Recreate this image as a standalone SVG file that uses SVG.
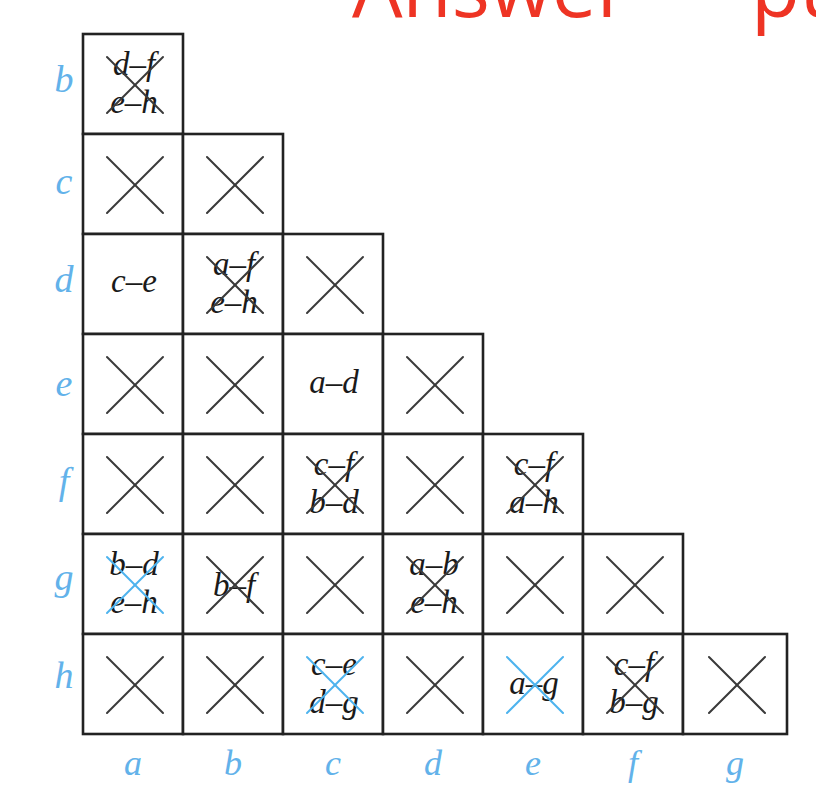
<svg xmlns="http://www.w3.org/2000/svg" width="816" height="808" viewBox="0 0 816 808">
<style>
.cell{fill:#fff;stroke:#222;stroke-width:2.6}
.x{stroke:#3a3a3a;stroke-width:2;stroke-linecap:round}
.xb{stroke:#4db3ee;stroke-width:2;stroke-linecap:round}
.t{font-family:"Liberation Serif","DejaVu Serif",serif;font-style:italic;font-size:33px;fill:#1a1a1a;text-anchor:middle}
.lab{font-family:"Liberation Serif","DejaVu Serif",serif;font-style:italic;font-size:38px;fill:#62b2ea;text-anchor:middle}
.col{font-size:36px}
.title{font-family:"Open Sans","Liberation Sans",sans-serif;font-size:80px;fill:#ee3424}
</style>
<defs>
<g id="xm"><line class="x" x1="-27" y1="-27" x2="29" y2="29"/><line class="x" x1="29" y1="-27" x2="-27" y2="29"/></g>
<g id="xmb"><line class="xb" x1="-27" y1="-27" x2="29" y2="29"/><line class="xb" x1="29" y1="-27" x2="-27" y2="29"/></g>
</defs>
<rect width="816" height="808" fill="#fff"/>
<text class="title" x="352" y="17">Answer — pu</text>
<g id="row-labels">
<text class="lab" x="64" y="92">b</text>
<text class="lab" x="64" y="194">c</text>
<text class="lab" x="64" y="292">d</text>
<text class="lab" x="64" y="396">e</text>
<text class="lab" x="64" y="494">f</text>
<text class="lab" x="64" y="590">g</text>
<text class="lab" x="64" y="688">h</text>
</g>
<g id="col-labels">
<text class="lab col" x="133" y="775">a</text>
<text class="lab col" x="233" y="775">b</text>
<text class="lab col" x="333" y="775">c</text>
<text class="lab col" x="433" y="775">d</text>
<text class="lab col" x="533" y="775">e</text>
<text class="lab col" x="633" y="775">f</text>
<text class="lab col" x="735" y="775">g</text>
</g>
<g id="b-a"><rect class="cell" x="83" y="34" width="100" height="100"/><text class="t" x="134" y="75">d–f</text><text class="t" x="134" y="113">e–h</text><use href="#xm" x="134" y="84"/></g>
<g id="c-a"><rect class="cell" x="83" y="134" width="100" height="100"/><use href="#xm" x="134" y="184"/></g>
<g id="c-b"><rect class="cell" x="183" y="134" width="100" height="100"/><use href="#xm" x="234" y="184"/></g>
<g id="d-a"><rect class="cell" x="83" y="234" width="100" height="100"/><text class="t" x="134" y="292">c–e</text></g>
<g id="d-b"><rect class="cell" x="183" y="234" width="100" height="100"/><text class="t" x="234" y="275">a–f</text><text class="t" x="234" y="313">e–h</text><use href="#xm" x="234" y="284"/></g>
<g id="d-c"><rect class="cell" x="283" y="234" width="100" height="100"/><use href="#xm" x="334" y="284"/></g>
<g id="e-a"><rect class="cell" x="83" y="334" width="100" height="100"/><use href="#xm" x="134" y="384"/></g>
<g id="e-b"><rect class="cell" x="183" y="334" width="100" height="100"/><use href="#xm" x="234" y="384"/></g>
<g id="e-c"><rect class="cell" x="283" y="334" width="100" height="100"/><text class="t" x="334" y="393">a–d</text></g>
<g id="e-d"><rect class="cell" x="383" y="334" width="100" height="100"/><use href="#xm" x="434" y="384"/></g>
<g id="f-a"><rect class="cell" x="83" y="434" width="100" height="100"/><use href="#xm" x="134" y="484"/></g>
<g id="f-b"><rect class="cell" x="183" y="434" width="100" height="100"/><use href="#xm" x="234" y="484"/></g>
<g id="f-c"><rect class="cell" x="283" y="434" width="100" height="100"/><text class="t" x="334" y="475">c–f</text><text class="t" x="334" y="513">b–d</text><use href="#xm" x="334" y="484"/></g>
<g id="f-d"><rect class="cell" x="383" y="434" width="100" height="100"/><use href="#xm" x="434" y="484"/></g>
<g id="f-e"><rect class="cell" x="483" y="434" width="100" height="100"/><text class="t" x="534" y="475">c–f</text><text class="t" x="534" y="513">a–h</text><use href="#xm" x="534" y="484"/></g>
<g id="g-a"><rect class="cell" x="83" y="534" width="100" height="100"/><text class="t" x="134" y="575">b–d</text><text class="t" x="134" y="613">e–h</text><use href="#xmb" x="134" y="584"/></g>
<g id="g-b"><rect class="cell" x="183" y="534" width="100" height="100"/><text class="t" x="234" y="596">b–f</text><use href="#xm" x="234" y="584"/></g>
<g id="g-c"><rect class="cell" x="283" y="534" width="100" height="100"/><use href="#xm" x="334" y="584"/></g>
<g id="g-d"><rect class="cell" x="383" y="534" width="100" height="100"/><text class="t" x="434" y="575">a–b</text><text class="t" x="434" y="613">e–h</text><use href="#xm" x="434" y="584"/></g>
<g id="g-e"><rect class="cell" x="483" y="534" width="100" height="100"/><use href="#xm" x="534" y="584"/></g>
<g id="g-f"><rect class="cell" x="583" y="534" width="100" height="100"/><use href="#xm" x="634" y="584"/></g>
<g id="h-a"><rect class="cell" x="83" y="634" width="100" height="100"/><use href="#xm" x="134" y="684"/></g>
<g id="h-b"><rect class="cell" x="183" y="634" width="100" height="100"/><use href="#xm" x="234" y="684"/></g>
<g id="h-c"><rect class="cell" x="283" y="634" width="100" height="100"/><text class="t" x="334" y="675">c–e</text><text class="t" x="334" y="713">d–g</text><use href="#xmb" x="334" y="684"/></g>
<g id="h-d"><rect class="cell" x="383" y="634" width="100" height="100"/><use href="#xm" x="434" y="684"/></g>
<g id="h-e"><rect class="cell" x="483" y="634" width="100" height="100"/><text class="t" x="534" y="694">a–g</text><use href="#xmb" x="534" y="684"/></g>
<g id="h-f"><rect class="cell" x="583" y="634" width="100" height="100"/><text class="t" x="634" y="675">c–f</text><text class="t" x="634" y="713">b–g</text><use href="#xm" x="634" y="684"/></g>
<g id="h-g"><rect class="cell" x="683" y="634" width="104" height="100"/><use href="#xm" x="736" y="684"/></g>
<g id="connectors"/>
</svg>
